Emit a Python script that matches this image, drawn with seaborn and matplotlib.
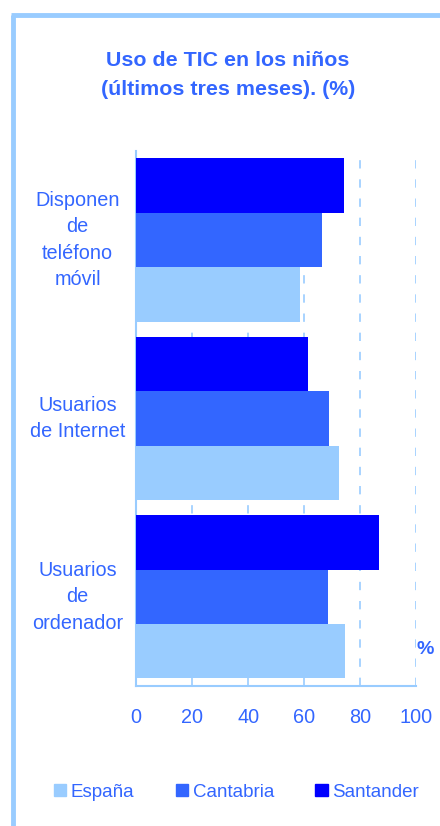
import matplotlib
matplotlib.use("Agg")
import matplotlib.pyplot as plt
from matplotlib.patches import Patch
from matplotlib.lines import Line2D
import seaborn as sns
import pandas as pd

# datos
categorias = ["Disponen\nde\nteléfono\nmóvil", "Usuarios\nde Internet", "Usuarios\nde\nordenador"]
santander = [74.2, 61.4, 86.7]
cantabria = [66.3, 68.8, 68.5]
espana = [58.5, 72.4, 74.6]
series = ["Santander", "Cantabria", "España"]
colores = {"España": "#99CCFF", "Cantabria": "#3366FF", "Santander": "#0000FF"}
texto = "#3366FF"
claro = "#99CCFF"

filas = []
for i, c in enumerate(categorias):
    filas.append((c, "Santander", santander[i]))
    filas.append((c, "Cantabria", cantabria[i]))
    filas.append((c, "España", espana[i]))
df = pd.DataFrame(filas, columns=["categoria", "serie", "valor"])

sns.set_style("white")
plt.rcParams["font.family"] = ["Liberation Sans", "DejaVu Sans"]

fig = plt.figure(figsize=(4.4, 8.26), dpi=100)
ax = fig.add_axes([0.309, 0.1695, 0.637, 0.6481])

sns.barplot(data=df, y="categoria", x="valor", hue="serie", hue_order=series,
            order=categorias, palette=colores, width=0.915, orient="h",
            saturation=1, ax=ax, legend=False, zorder=3)
for p in ax.patches:
    p.set_linewidth(0)

ax.set_xlim(0, 100)
ax.set_ylim(2.5, -0.5)
ax.set_xticks([0, 20, 40, 60, 80, 100])
ax.set_yticks([0, 1, 2])
ax.set_yticks([-0.5, 0.5, 1.5, 2.5], minor=True)
ax.set_yticklabels(categorias, ha="center", va="center", fontsize=14.3, color=texto, linespacing=1.5)
ax.tick_params(axis="y", which="major", length=0, pad=42)
ax.tick_params(axis="y", which="minor", length=4, width=1.2, color=claro, direction="out")
ax.tick_params(axis="x", length=4, width=1.2, color=claro, labelsize=14.3, labelcolor=texto, pad=12)
ax.set_xlabel("")
ax.set_ylabel("")

for x in [20, 40, 60, 80, 100]:
    ax.axvline(x, color=claro, lw=1.2, ls=(0, (5, 6.5)), zorder=1)

sns.despine(ax=ax, top=True, right=True)
for s in ["left", "bottom"]:
    ax.spines[s].set_color(claro)
    ax.spines[s].set_linewidth(1.5)

ax.text(1.0, 0.069, "%", transform=ax.transAxes, fontsize=14, fontweight="bold",
        color=texto, ha="left", va="center", clip_on=False)

fig.text(0.518, 0.9095, "Uso de TIC en los niños\n(últimos tres meses). (%)",
         ha="center", va="center", fontsize=15.4, fontweight="bold", color=texto, linespacing=1.65)

handles = [Patch(color=colores[s]) for s in ["España", "Cantabria", "Santander"]]
leg = fig.legend(handles, ["España", "Cantabria", "Santander"], loc="center",
                 bbox_to_anchor=(0.5375, 0.041), ncol=3, frameon=False, fontsize=13.5,
                 handlelength=0.65, handleheight=0.65, handletextpad=0.25, columnspacing=2.2)
for t in leg.get_texts():
    t.set_color(texto)

# marco de la figura
fig.add_artist(Line2D([0.03, 0.03], [0.0, 0.982], color=claro, lw=3.5, solid_capstyle="butt"))
fig.add_artist(Line2D([0.026, 1.0], [0.982, 0.982], color=claro, lw=3.5, solid_capstyle="butt"))

fig.savefig("out.png", dpi=100)
